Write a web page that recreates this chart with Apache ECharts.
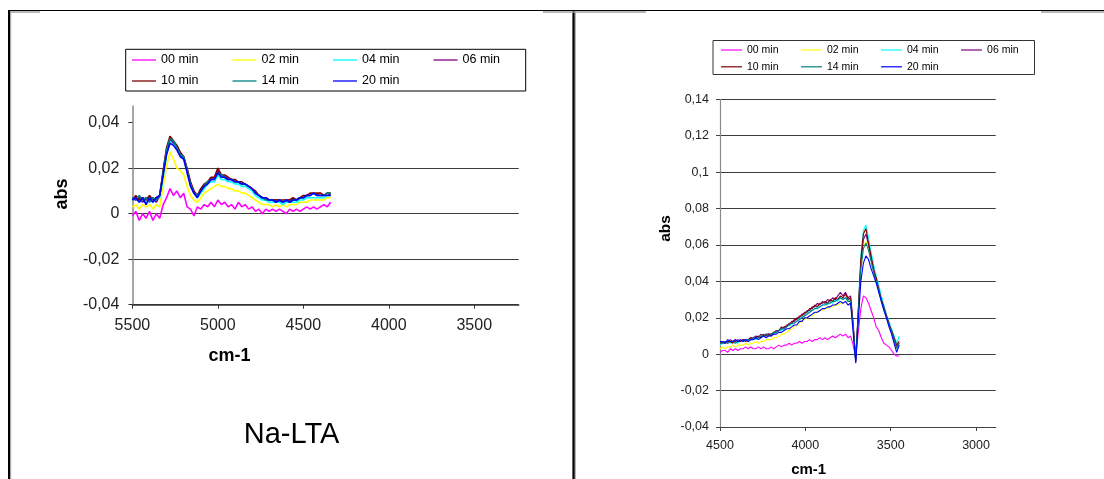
<!DOCTYPE html>
<html>
<head>
<meta charset="utf-8">
<title>Na-LTA IR spectra</title>
<script src="https://cdn.jsdelivr.net/npm/echarts@6/dist/echarts.min.js"></script>
<style>
  html, body { margin: 0; padding: 0; background: #fff; }
  #chart { width: 1104px; height: 479px; }
</style>
</head>
<body>
<div id="chart"></div>
<script>
// ---- Series names and colours (shared by both panels) ----
const seriesNames  = ['00 min', '02 min', '04 min', '06 min', '10 min', '14 min', '20 min'];
const seriesColors = ['#ff00ff', '#ffff00', '#00ffff', '#800080', '#800000', '#008080', '#0000ff'];

// ---- Left panel: Na-LTA, 5500-4340 cm-1 ----
const ltaWavenumber = [
  5500,5480,5460,5440,5420,5400,5380,5360,5340,5320,
  5300,5280,5260,5240,5220,5200,5180,5160,5140,5120,
  5100,5080,5060,5040,5020,5000,4980,4960,4940,4920,
  4900,4880,4860,4840,4820,4800,4780,4760,4740,4720,
  4700,4680,4660,4640,4620,4600,4580,4560,4540,4520,
  4500,4480,4460,4440,4420,4400,4380,4360,4340
];
const lta00 = [
  -0.001,0.001,-0.003,0.000,-0.002,0.001,-0.003,0.000,-0.002,0.004,
  0.007,0.011,0.008,0.010,0.007,0.009,0.003,0.002,-0.001,0.003,
  0.002,0.004,0.003,0.005,0.003,0.006,0.004,0.005,0.003,0.004,
  0.002,0.005,0.003,0.004,0.002,0.003,0.001,0.002,0.000,0.002,
  0.001,0.002,0.001,0.002,0.001,0.000,0.002,0.001,0.002,0.001,
  0.002,0.003,0.002,0.003,0.002,0.003,0.004,0.003,0.005
];
const lta02 = [
  0.003,0.004,0.002,0.004,0.003,0.004,0.002,0.004,0.003,0.012,
  0.021,0.027,0.024,0.020,0.019,0.017,0.012,0.008,0.006,0.005,
  0.007,0.009,0.010,0.011,0.012,0.013,0.012,0.012,0.011,0.011,
  0.010,0.010,0.009,0.009,0.008,0.007,0.006,0.005,0.004,0.004,
  0.004,0.003,0.004,0.003,0.004,0.003,0.004,0.004,0.004,0.005,
  0.005,0.005,0.006,0.006,0.006,0.006,0.006,0.007,0.007
];
const lta04 = [
  0.006,0.007,0.005,0.007,0.005,0.006,0.005,0.007,0.007,0.016,
  0.026,0.032,0.031,0.029,0.026,0.024,0.019,0.013,0.009,0.007,
  0.009,0.011,0.013,0.014,0.014,0.017,0.015,0.015,0.014,0.014,
  0.013,0.013,0.012,0.012,0.011,0.010,0.008,0.007,0.006,0.006,
  0.005,0.005,0.005,0.005,0.004,0.005,0.005,0.005,0.005,0.006,
  0.006,0.007,0.007,0.007,0.007,0.007,0.007,0.008,0.008
];
const lta06 = [
  0.007,0.006,0.007,0.005,0.007,0.006,0.007,0.005,0.008,0.018,
  0.028,0.033,0.031,0.030,0.026,0.025,0.019,0.013,0.009,0.008,
  0.010,0.012,0.014,0.015,0.016,0.019,0.017,0.016,0.015,0.015,
  0.014,0.014,0.013,0.013,0.012,0.011,0.009,0.008,0.007,0.007,
  0.006,0.006,0.006,0.006,0.005,0.006,0.006,0.006,0.006,0.007,
  0.007,0.008,0.008,0.009,0.008,0.009,0.008,0.009,0.008
];
const lta10 = [
  0.006,0.008,0.006,0.007,0.006,0.008,0.006,0.007,0.008,0.019,
  0.029,0.034,0.032,0.030,0.027,0.025,0.020,0.014,0.010,0.008,
  0.011,0.013,0.014,0.016,0.016,0.020,0.017,0.017,0.016,0.015,
  0.015,0.014,0.014,0.013,0.012,0.011,0.010,0.008,0.007,0.007,
  0.006,0.006,0.006,0.006,0.006,0.006,0.006,0.007,0.006,0.007,
  0.008,0.008,0.009,0.009,0.009,0.009,0.008,0.009,0.009
];
const lta14 = [
  0.007,0.006,0.008,0.006,0.007,0.005,0.007,0.006,0.008,0.018,
  0.028,0.033,0.032,0.029,0.026,0.025,0.019,0.013,0.009,0.008,
  0.010,0.012,0.014,0.015,0.015,0.018,0.017,0.016,0.015,0.015,
  0.014,0.014,0.013,0.013,0.012,0.011,0.009,0.008,0.007,0.006,
  0.006,0.006,0.005,0.006,0.005,0.006,0.005,0.006,0.006,0.007,
  0.007,0.008,0.008,0.009,0.008,0.008,0.008,0.009,0.009
];
const lta20 = [
  0.006,0.007,0.005,0.007,0.004,0.007,0.005,0.007,0.008,0.017,
  0.026,0.031,0.030,0.028,0.025,0.024,0.018,0.012,0.009,0.007,
  0.010,0.012,0.013,0.015,0.015,0.018,0.016,0.016,0.015,0.015,
  0.014,0.014,0.013,0.013,0.012,0.011,0.009,0.008,0.007,0.007,
  0.006,0.006,0.005,0.006,0.005,0.006,0.005,0.006,0.006,0.007,
  0.007,0.008,0.008,0.009,0.008,0.008,0.008,0.008,0.008
];
const ltaXTicks = [3500, 4000, 4500, 5000, 5500];
const ltaYTicks = [-0.04, -0.02, 0, 0.02, 0.04];

// ---- Right panel: OH stretching region, 4500-3450 cm-1 ----
const ohWavenumber = [
  4500,4485,4470,4455,4440,4425,4410,4395,4380,4365,
  4350,4335,4320,4305,4290,4275,4260,4245,4230,4215,
  4200,4185,4170,4155,4140,4125,4110,4095,4080,4065,
  4050,4035,4020,4005,3990,3975,3960,3945,3930,3915,
  3900,3885,3870,3855,3840,3825,3810,3795,3780,3765,
  3750,3735,3720,3705,3690,3675,3660,3645,3630,3615,
  3600,3585,3570,3555,3540,3525,3510,3495,3480,3465,
  3450
];
const oh00 = [
  0.001,0.002,0.002,0.001,0.003,0.002,0.003,0.002,0.003,0.003,
  0.004,0.003,0.004,0.003,0.003,0.004,0.003,0.004,0.003,0.003,
  0.004,0.003,0.004,0.005,0.004,0.005,0.005,0.006,0.005,0.006,
  0.006,0.007,0.006,0.007,0.007,0.008,0.007,0.008,0.008,0.009,
  0.008,0.009,0.008,0.009,0.010,0.009,0.010,0.011,0.010,0.011,
  0.009,0.010,0.005,-0.002,0.012,0.025,0.032,0.031,0.028,0.024,
  0.020,0.015,0.013,0.009,0.006,0.005,0.004,0.002,0.000,-0.001,
  -0.001
];
const oh02 = [
  0.003,0.004,0.003,0.004,0.004,0.005,0.004,0.005,0.005,0.005,
  0.006,0.005,0.006,0.006,0.007,0.006,0.007,0.007,0.008,0.008,
  0.008,0.009,0.009,0.010,0.011,0.011,0.012,0.013,0.014,0.015,
  0.016,0.017,0.018,0.019,0.020,0.021,0.021,0.022,0.023,0.024,
  0.024,0.025,0.025,0.026,0.026,0.027,0.027,0.028,0.028,0.029,
  0.027,0.028,0.014,-0.003,0.021,0.046,0.058,0.062,0.058,0.052,
  0.047,0.042,0.036,0.031,0.026,0.021,0.017,0.012,0.008,0.004,
  0.006
];
const oh04 = [
  0.005,0.006,0.006,0.007,0.006,0.007,0.007,0.006,0.008,0.007,
  0.008,0.007,0.008,0.009,0.008,0.009,0.010,0.010,0.010,0.011,
  0.011,0.011,0.012,0.013,0.013,0.014,0.015,0.016,0.016,0.018,
  0.018,0.020,0.020,0.022,0.022,0.024,0.024,0.025,0.026,0.026,
  0.027,0.028,0.027,0.029,0.028,0.030,0.029,0.031,0.030,0.031,
  0.029,0.030,0.015,-0.003,0.025,0.054,0.068,0.071,0.064,0.056,
  0.049,0.043,0.038,0.032,0.027,0.022,0.018,0.014,0.010,0.006,
  0.010
];
const oh06 = [
  0.006,0.006,0.007,0.006,0.008,0.007,0.007,0.008,0.007,0.008,
  0.008,0.008,0.009,0.009,0.010,0.009,0.011,0.010,0.011,0.011,
  0.011,0.012,0.013,0.013,0.015,0.014,0.016,0.016,0.018,0.018,
  0.020,0.020,0.022,0.022,0.024,0.024,0.026,0.026,0.028,0.027,
  0.029,0.028,0.030,0.029,0.031,0.030,0.032,0.034,0.032,0.034,
  0.031,0.032,0.017,-0.003,0.023,0.050,0.063,0.066,0.060,0.053,
  0.047,0.041,0.036,0.030,0.025,0.021,0.017,0.012,0.008,0.004,
  0.006
];
const oh10 = [
  0.006,0.007,0.006,0.007,0.007,0.006,0.008,0.007,0.007,0.008,
  0.007,0.008,0.009,0.008,0.009,0.010,0.009,0.011,0.010,0.011,
  0.010,0.012,0.012,0.013,0.014,0.015,0.015,0.017,0.017,0.019,
  0.019,0.021,0.021,0.023,0.023,0.025,0.025,0.027,0.026,0.028,
  0.028,0.029,0.028,0.030,0.029,0.031,0.030,0.032,0.031,0.033,
  0.030,0.031,0.016,-0.004,0.024,0.052,0.066,0.069,0.061,0.054,
  0.046,0.042,0.035,0.030,0.026,0.021,0.016,0.013,0.009,0.005,
  0.007
];
const oh14 = [
  0.006,0.006,0.007,0.006,0.007,0.007,0.006,0.007,0.008,0.007,
  0.008,0.008,0.008,0.009,0.009,0.009,0.010,0.010,0.011,0.010,
  0.011,0.012,0.012,0.013,0.014,0.014,0.015,0.016,0.017,0.017,
  0.018,0.019,0.020,0.021,0.022,0.023,0.024,0.025,0.025,0.026,
  0.027,0.027,0.028,0.028,0.029,0.029,0.030,0.031,0.030,0.031,
  0.029,0.029,0.015,-0.004,0.022,0.047,0.058,0.061,0.057,0.051,
  0.045,0.040,0.035,0.029,0.025,0.020,0.016,0.012,0.008,0.003,
  0.006
];
const oh20 = [
  0.007,0.007,0.006,0.008,0.007,0.007,0.008,0.007,0.008,0.007,
  0.008,0.007,0.008,0.008,0.009,0.008,0.009,0.010,0.009,0.010,
  0.010,0.011,0.011,0.012,0.012,0.013,0.014,0.014,0.015,0.016,
  0.016,0.018,0.018,0.020,0.020,0.021,0.022,0.023,0.023,0.024,
  0.025,0.025,0.026,0.026,0.027,0.027,0.028,0.029,0.028,0.029,
  0.027,0.028,0.012,-0.005,0.018,0.040,0.050,0.054,0.052,0.047,
  0.043,0.039,0.034,0.029,0.024,0.020,0.015,0.011,0.006,0.001,
  0.005
];
const ohXTicks = [3000, 3500, 4000, 4500];
const ohYTicks = [-0.04, -0.02, 0, 0.02, 0.04, 0.06, 0.08, 0.1, 0.12, 0.14];

const ltaSeries = [lta00, lta02, lta04, lta06, lta10, lta14, lta20];
const ohSeries  = [oh00, oh02, oh04, oh06, oh10, oh14, oh20];

// ---- Helpers ----
const FONT = '"Liberation Sans", Arial, sans-serif';
const decimalComma = v => String(+(+v).toFixed(4)).replace('.', ',');
const plainNumber = v => String(v);
const toPairs = (xs, ys) => xs.map((x, i) => [x, ys[i]]);

function makeLines(xs, ysList, axisIndex, width) {
  return ysList.map((ys, k) => ({
    name: seriesNames[k],
    type: 'line',
    xAxisIndex: axisIndex,
    yAxisIndex: axisIndex,
    data: toPairs(xs, ys),
    symbol: 'none',
    color: seriesColors[k],
    lineStyle: { width: width, color: seriesColors[k] },
    z: 3 + k,
    silent: true
  }));
}

// one legend row; a very flat rect icon works as the line sample
function legendRow(names, left, top, itemWidth, itemGap, fontSize, lineHeight) {
  return {
    data: names,
    icon: 'rect',
    orient: 'horizontal',
    left: left,
    top: top,
    padding: 0,
    itemWidth: itemWidth,
    itemHeight: lineHeight,
    itemGap: itemGap,
    selectedMode: false,
    textStyle: { fontFamily: FONT, fontSize: fontSize, color: '#000' }
  };
}

const gridLineColor = '#3c3c3c';

const option = {
  animation: false,
  backgroundColor: '#fff',
  legend: [
    legendRow(seriesNames.slice(0, 4), 132, 53.5, 24, 34, 12.5, 1.3),
    legendRow(seriesNames.slice(4),    132, 74.5, 24, 34, 12.5, 1.3),
    legendRow(seriesNames.slice(0, 4), 721, 44.5, 21, 22.5, 10.5, 1.2),
    legendRow(seriesNames.slice(4),    721, 61.3, 21, 22.5, 10.5, 1.2)
  ],
  grid: [
    { left: 132.4, top: 106, width: 386.3, height: 198.7 },
    { left: 720,   top: 99.3, width: 275.7, height: 327.7 }
  ],
  xAxis: [
    {
      type: 'value', gridIndex: 0, inverse: true, min: 3240, max: 5500,
      axisLine: { show: true, onZero: false, lineStyle: { color: '#333', width: 1.5 } },
      axisTick: { show: true, length: 4, customValues: ltaXTicks, lineStyle: { color: '#333' } },
      axisLabel: { customValues: ltaXTicks, margin: 13, fontFamily: FONT, fontSize: 16, color: '#222',
                   formatter: plainNumber },
      splitLine: { show: false }
    },
    {
      type: 'value', gridIndex: 1, inverse: true, min: 2885, max: 4500,
      axisLine: { show: true, onZero: false, lineStyle: { color: '#444', width: 1.2 } },
      axisTick: { show: true, length: 4, customValues: ohXTicks, lineStyle: { color: '#444' } },
      axisLabel: { customValues: ohXTicks, margin: 12, fontFamily: FONT, fontSize: 12.5, color: '#222',
                   formatter: plainNumber },
      splitLine: { show: false }
    }
  ],
  yAxis: [
    {
      type: 'value', gridIndex: 0, min: -0.04, max: 0.0473,
      axisLine: { show: true, onZero: false, lineStyle: { color: '#8a8a8a', width: 1.5 } },
      axisTick: { show: true, length: 4, customValues: ltaYTicks, lineStyle: { color: '#333' } },
      axisLabel: { customValues: ltaYTicks, margin: 13, fontFamily: FONT, fontSize: 16, color: '#222',
                   formatter: decimalComma },
      splitLine: { show: true, showMaxLine: false, lineStyle: { color: gridLineColor, width: 1 } }
    },
    {
      type: 'value', gridIndex: 1, min: -0.04, max: 0.14,
      axisLine: { show: true, onZero: false, lineStyle: { color: '#8a8a8a', width: 1.2 } },
      axisTick: { show: true, length: 4, customValues: ohYTicks, lineStyle: { color: '#444' } },
      axisLabel: { customValues: ohYTicks, margin: 11, fontFamily: FONT, fontSize: 12.5, color: '#222',
                   formatter: decimalComma },
      splitLine: { show: true, lineStyle: { color: gridLineColor, width: 1 } }
    }
  ],
  series: [
    ...makeLines(ltaWavenumber, ltaSeries, 0, 1.6),
    ...makeLines(ohWavenumber, ohSeries, 1, 1.1)
  ],
  graphic: [
    // page frame
    { type: 'line', shape: { x1: 8, y1: 10.5, x2: 1104, y2: 10.5 }, style: { stroke: '#000', lineWidth: 1 } },
    { type: 'rect', shape: { x: 8, y: 10, width: 2.2, height: 469 }, style: { fill: '#000' } },
    { type: 'rect', shape: { x: 572.4, y: 10, width: 2.4, height: 469 }, style: { fill: '#000' } },
    { type: 'line', shape: { x1: 10.7, y1: 12, x2: 10.7, y2: 479 }, style: { stroke: '#a0a0a0', lineWidth: 1 } },
    { type: 'line', shape: { x1: 575.3, y1: 12, x2: 575.3, y2: 479 }, style: { stroke: '#a0a0a0', lineWidth: 1 } },
    { type: 'line', shape: { x1: 10, y1: 12, x2: 40, y2: 12 }, style: { stroke: '#a0a0a0', lineWidth: 1.5 } },
    { type: 'line', shape: { x1: 543, y1: 12, x2: 646, y2: 12 }, style: { stroke: '#a0a0a0', lineWidth: 1.5 } },
    { type: 'line', shape: { x1: 1041, y1: 12, x2: 1104, y2: 12 }, style: { stroke: '#a0a0a0', lineWidth: 1.5 } },
    // legend frames
    { type: 'rect', shape: { x: 125.7, y: 49.3, width: 400, height: 41.7 },
      style: { fill: null, stroke: '#000', lineWidth: 1 } },
    { type: 'rect', shape: { x: 713, y: 40.5, width: 321.5, height: 34 },
      style: { fill: null, stroke: '#333', lineWidth: 1 } },
    // axis titles
    { type: 'text', x: 62, y: 194, rotation: Math.PI / 2,
      style: { text: 'abs', font: 'bold 18px ' + FONT, fill: '#000', align: 'center', verticalAlign: 'middle' } },
    { type: 'text', x: 229.5, y: 356,
      style: { text: 'cm-1', font: 'bold 18px ' + FONT, fill: '#000', align: 'center', verticalAlign: 'middle' } },
    { type: 'text', x: 666, y: 228.5, rotation: Math.PI / 2,
      style: { text: 'abs', font: 'bold 15.5px ' + FONT, fill: '#000', align: 'center', verticalAlign: 'middle' } },
    { type: 'text', x: 808.7, y: 469.5,
      style: { text: 'cm-1', font: 'bold 15px ' + FONT, fill: '#000', align: 'center', verticalAlign: 'middle' } },
    // sample label
    { type: 'text', x: 291.5, y: 435,
      style: { text: 'Na-LTA', font: '29px ' + FONT, fill: '#000', align: 'center', verticalAlign: 'middle' } }
  ]
};

const chart = echarts.init(document.getElementById('chart'), null, { renderer: 'canvas' });
chart.setOption(option);
</script>
</body>
</html>
